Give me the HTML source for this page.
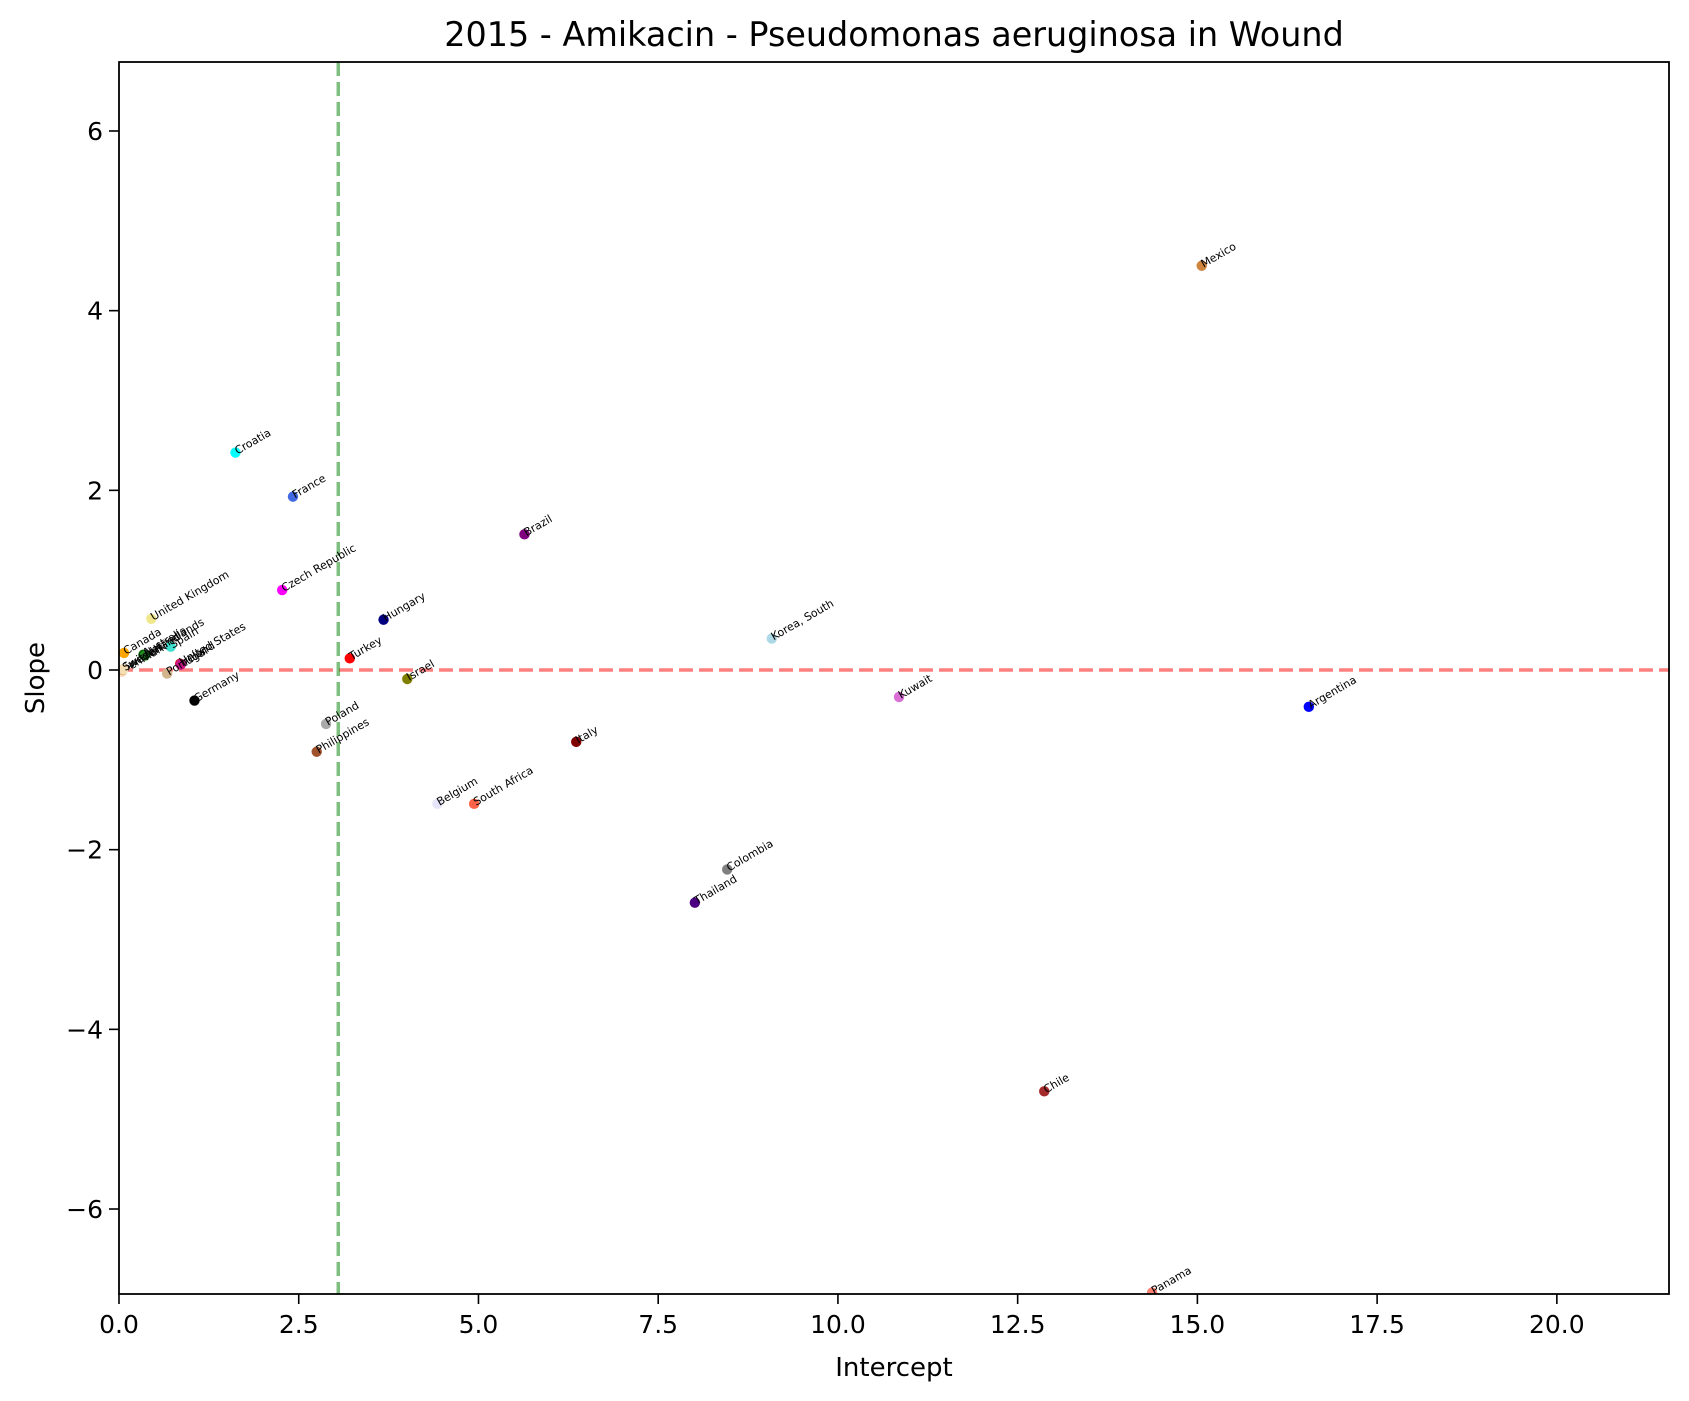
<!DOCTYPE html>
<html><head><meta charset="utf-8"><style>
html,body{margin:0;padding:0;background:#fff}
svg{display:block;font-family:"DejaVu Sans","Liberation Sans",sans-serif}
</style></head><body>
<svg id="chart" width="1689" height="1401" viewBox="0 0 1689 1401" xmlns="http://www.w3.org/2000/svg">
<rect width="1689" height="1401" fill="#fff"/>
<text x="894" y="46" font-size="33.4" text-anchor="middle">2015 - Amikacin - Pseudomonas aeruginosa in Wound</text>
<text x="894" y="1376" font-size="26" text-anchor="middle">Intercept</text>
<text x="44" y="678" font-size="26" text-anchor="middle" transform="rotate(-90 44 678)">Slope</text>
<g id="grid"></g>
<g id="points"></g>
<g id="axes"></g>
</svg>
<script>
const countries = ["Mexico","Croatia","France","Brazil","Czech Republic","United Kingdom","Hungary","Korea, South","Turkey","Israel","Canada","Australia","Netherlands","Spain","United States","Ireland","Portugal","Denmark","Sweden","Switzerland","Germany","Poland","Philippines","Italy","Belgium","South Africa","Colombia","Thailand","Kuwait","Argentina","Chile","Panama"];
const intercepts = [15.06,1.62,2.42,5.64,2.27,0.45,3.68,9.08,3.21,4.01,0.07,0.34,0.36,0.72,0.85,0.86,0.67,0.04,0.05,0.06,1.05,2.88,2.75,6.36,4.43,4.94,8.46,8.01,10.85,16.55,12.87,14.37];
const slopes = [4.50,2.42,1.93,1.51,0.89,0.57,0.56,0.35,0.13,-0.10,0.19,0.17,0.16,0.26,0.07,0.06,-0.04,-0.02,0.0,0.01,-0.34,-0.60,-0.91,-0.80,-1.49,-1.49,-2.22,-2.59,-0.30,-0.41,-4.69,-6.93];
const colors = ["#cd853f","#00ffff","#4169e1","#800080","#ff00ff","#f0e68c","#000080","#add8e6","#ff0000","#808000","#ffa500","#006400","#228b22","#40e0d0","#dc143c","#c71585","#d2b48c","#ffdab9","#deb887","#f5deb3","#000000","#a9a9a9","#a0522d","#800000","#e6e6fa","#ff6347","#808080","#4b0082","#da70d6","#0000ff","#a52a2a","#fa8072"];
const xTicks = [0,2.5,5,7.5,10,12.5,15,17.5,20];
const xTickLabels = ["0.0","2.5","5.0","7.5","10.0","12.5","15.0","17.5","20.0"];
const yTicks = [-6,-4,-2,0,2,4,6];
const yTickLabels = ["\u22126","\u22124","\u22122","0","2","4","6"];
const vLine = [3.05];
const hLine = [0];

const L=119,R=1669,T=62,B=1294;
const xMin=0,xMax=21.56,yMin=-6.946,yMax=6.768;
const xs=v=>L+(v-xMin)/(xMax-xMin)*(R-L);
const ys=v=>B-(v-yMin)/(yMax-yMin)*(B-T);
const NS="http://www.w3.org/2000/svg";
function mk(tag,attrs,parent){const e=document.createElementNS(NS,tag);for(const k in attrs)e.setAttribute(k,attrs[k]);parent.appendChild(e);return e;}
const svg=document.getElementById('chart');
const defs=mk('defs',{},svg);
const cp=mk('clipPath',{id:'plotclip'},defs);
mk('rect',{x:L,y:T,width:R-L,height:B-T},cp);
const grid=document.getElementById('grid');
grid.setAttribute('clip-path','url(#plotclip)');
const hl=mk('line',{x1:L,x2:R,y1:ys(hLine[0]),y2:ys(hLine[0]),stroke:'#ff0000','stroke-opacity':0.5,'stroke-width':3.5,'stroke-dasharray':'14,6'},grid);


const vl=mk('line',{x1:xs(vLine[0]),x2:xs(vLine[0]),y1:T,y2:B,stroke:'#008000','stroke-opacity':0.5,'stroke-width':3.5,'stroke-dasharray':'14,6'},grid);


const pts=document.getElementById('points');
pts.setAttribute('clip-path','url(#plotclip)');
for(let i=0;i<countries.length;i++){
  const cx=xs(intercepts[i]),cy=ys(slopes[i]);
  const c=mk('circle',{cx:cx,cy:cy,r:5.2,fill:colors[i]},pts);
  
  
  const t=mk('text',{x:cx+2,y:cy+2,'font-size':11,transform:`rotate(-30 ${cx+2} ${cy+2})`},pts);
  t.textContent=countries[i];
  
  
}
const ax=document.getElementById('axes');
const frame=mk('rect',{x:L,y:T,width:R-L,height:B-T,fill:'none',stroke:'#000','stroke-width':1.8},ax);


xTicks.forEach((v,i)=>{
  const x=xs(v);
  const tk=mk('line',{x1:x,x2:x,y1:B,y2:B+10,stroke:'#000','stroke-width':1.6},ax);
  
  
  const t=mk('text',{x:x,y:B+39,'font-size':25,'text-anchor':'middle'},ax);
  t.textContent=xTickLabels[i];
  
  
});
yTicks.forEach((v,i)=>{
  const y=ys(v);
  const tk=mk('line',{x1:L-10,x2:L,y1:y,y2:y,stroke:'#000','stroke-width':1.6},ax);
  
  
  const t=mk('text',{x:L-16,y:y+9,'font-size':25,'text-anchor':'end'},ax);
  t.textContent=yTickLabels[i];
  
  
});
</script>
</body></html>
